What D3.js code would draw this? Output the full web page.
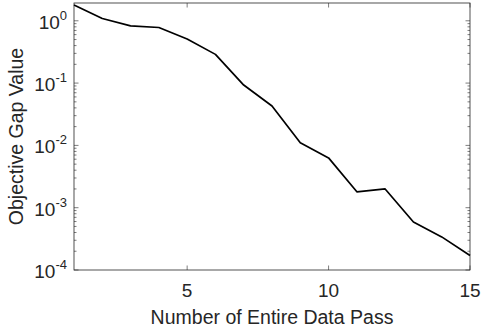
<!DOCTYPE html>
<html>
<head>
<meta charset="utf-8">
<script src="https://cdn.jsdelivr.net/npm/d3@7"></script>
<style>
  body { margin: 0; background: #fff; }
  svg { display: block; }
  text { font-family: "Liberation Sans", Arial, sans-serif; fill: #262626; }
</style>
</head>
<body>
<svg id="chart" width="481" height="332"></svg>
<script>
// Data
var passes = [1, 2, 3, 4, 5, 6, 7, 8, 9, 10, 11, 12, 13, 14, 15];
var gapValues = [1.79, 1.09, 0.83, 0.78, 0.51, 0.289, 0.093, 0.0428, 0.011, 0.0063,
                 0.0018, 0.0020, 0.00059, 0.00034, 0.000171];
var xTicks = [5, 10, 15];
var yExponents = [0, -1, -2, -3, -4];
var yDomain = [1e-4, 1.93];

var svg = d3.select("#chart");
var margin = {top: 3, right: 11, bottom: 62, left: 74};
var width = +svg.attr("width") - margin.left - margin.right;
var height = +svg.attr("height") - margin.top - margin.bottom;
var g = svg.append("g").attr("transform", "translate(" + margin.left + "," + margin.top + ")");

var x = d3.scaleLinear().domain([1, 15]).range([0, width]);
var y = d3.scaleLog().domain(yDomain).range([height, 0]);

var axisColor = "#262626";

// Minor ticks for log axis (2..9 in each decade)
var minor = [];
yExponents.forEach(function(e) {
  for (var k = 2; k <= 9; k++) {
    var v = k * Math.pow(10, e);
    if (v <= yDomain[1]) minor.push(v);
  }
});

// ticks on left and right (inward)
[0, width].forEach(function(xp, side) {
  var dir = side == 0 ? 1 : -1;
  g.selectAll(null).data(minor).enter().append("line")
      .attr("x1", xp).attr("x2", xp + dir * 2.5)
      .attr("y1", function(d) { return y(d); })
      .attr("y2", function(d) { return y(d); })
      .attr("stroke", axisColor).attr("stroke-width", 0.6);
  g.selectAll(null).data(yExponents).enter().append("line")
      .attr("x1", xp).attr("x2", xp + dir * 4.5)
      .attr("y1", function(d) { return y(Math.pow(10, d)); })
      .attr("y2", function(d) { return y(Math.pow(10, d)); })
      .attr("stroke", axisColor).attr("stroke-width", 0.6);
});

// x ticks on bottom and top (inward)
[height, 0].forEach(function(yp, side) {
  var dir = side == 0 ? -1 : 1;
  g.selectAll(null).data(xTicks).enter().append("line")
      .attr("x1", function(d) { return x(d); })
      .attr("x2", function(d) { return x(d); })
      .attr("y1", yp).attr("y2", yp + dir * 4.5)
      .attr("stroke", axisColor).attr("stroke-width", 0.6);
});

// box
g.append("rect")
    .attr("width", width).attr("height", height)
    .attr("fill", "none").attr("stroke", axisColor).attr("stroke-width", 0.8);

// line
var line = d3.line()
    .x(function(d, i) { return x(passes[i]); })
    .y(function(d) { return y(d); });

g.append("path")
    .datum(gapValues)
    .attr("fill", "none")
    .attr("stroke", "#000")
    .attr("stroke-width", 1.7)
    .attr("stroke-linejoin", "round")
    .attr("d", line);

// x tick labels
g.selectAll(".xlab").data(xTicks).enter().append("text")
    .attr("class", "xlab")
    .attr("x", function(d) { return x(d); })
    .attr("y", height + 27)
    .attr("text-anchor", "middle")
    .style("font-size", "19px")
    .text(function(d) { return d; });

// y tick labels 10^e
var ylab = g.selectAll(".ylab").data(yExponents).enter().append("text")
    .attr("class", "ylab")
    .attr("x", -7)
    .attr("y", function(d) { return y(Math.pow(10, d)) + 8; })
    .attr("text-anchor", "end")
    .style("font-size", "19px");
ylab.append("tspan").text("10");
ylab.append("tspan")
    .attr("dy", -9)
    .style("font-size", "13px")
    .text(function(d) { return d; });

// axis labels
g.append("text")
    .attr("x", width / 2)
    .attr("y", height + 54)
    .attr("text-anchor", "middle")
    .style("font-size", "19.5px")
    .text("Number of Entire Data Pass");

g.append("text")
    .attr("transform", "translate(" + (-51) + "," + (height / 2) + ") rotate(-90)")
    .attr("text-anchor", "middle")
    .style("font-size", "19.5px")
    .text("Objective Gap Value");
</script>
</body>
</html>
